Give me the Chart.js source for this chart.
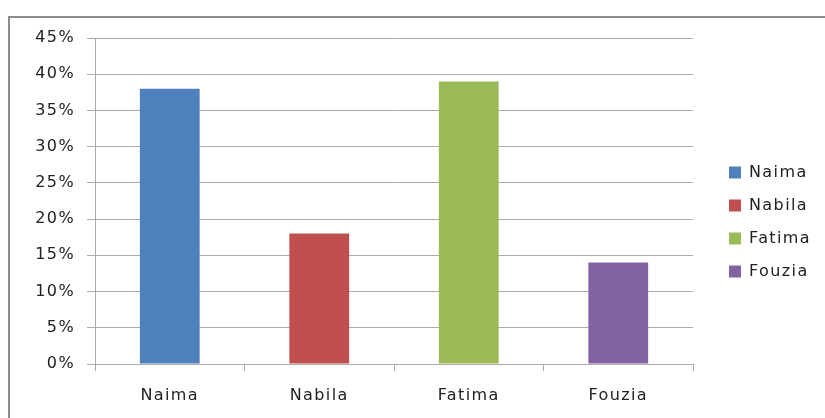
<!DOCTYPE html>
<html>
<head>
<meta charset="utf-8">
<script src="https://cdn.jsdelivr.net/npm/chart.js@4/dist/chart.umd.min.js"></script>
<style>
  html, body { margin: 0; padding: 0; background: #fff; }
  #wrap { position: absolute; left: 0; top: 0; width: 825px; height: 418px; }
</style>
</head>
<body>
<div id="wrap"><canvas id="c" width="825" height="418"></canvas></div>
<script>
const categories = ['Naima', 'Nabila', 'Fatima', 'Fouzia'];
const values = [38, 18, 39, 14];
const barColors = ['#4F81BD', '#C0504D', '#9BBB59', '#8064A2'];
const yMax = 45;
const yStep = 5;

const FONT = { family: "'DejaVu Sans', Verdana, sans-serif", size: 16 };
const TEXT = '#222222';
const GRID = '#ababab';
const SPACING = '1.4px';

const framePlugin = {
  id: 'frame',
  beforeLayout(chart) {
    chart.ctx.letterSpacing = SPACING;
    const lg = chart.legend;
    if (lg && !lg._patched) {
      const f = lg.fit;
      lg.fit = function () { f.apply(this, arguments); this.width = 113; };
      lg._patched = true;
    }
  },
  beforeDraw(chart) {
    const ctx = chart.ctx;
    ctx.letterSpacing = SPACING;
    ctx.save();
    ctx.strokeStyle = '#8c8c8c';
    ctx.lineWidth = 2;
    ctx.strokeRect(9, 17, 840, 420);
    ctx.restore();
  }
};

new Chart(document.getElementById('c'), {
  type: 'bar',
  data: {
    labels: categories,
    datasets: [{
      data: values,
      backgroundColor: barColors,
      borderWidth: 0,
      barPercentage: 0.4,
      categoryPercentage: 1.0
    }]
  },
  options: {
    responsive: false,
    animation: false,
    devicePixelRatio: 1,
    layout: { padding: { left: 10, top: 38, right: 0, bottom: 12 } },
    plugins: {
      tooltip: { enabled: false },
      legend: {
        position: 'right',
        align: 'center',
        labels: {
          boxWidth: 12,
          boxHeight: 12,
          padding: 17,
          color: TEXT,
          font: FONT,
          generateLabels(chart) {
            const ds = chart.data.datasets[0];
            return chart.data.labels.map((l, i) => ({
              text: l,
              fillStyle: ds.backgroundColor[i],
              strokeStyle: ds.backgroundColor[i],
              lineWidth: 0,
              fontColor: TEXT,
              hidden: false,
              index: i
            }));
          }
        }
      }
    },
    scales: {
      x: {
        grid: { drawOnChartArea: false, drawTicks: true, tickLength: 7, color: GRID },
        border: { color: GRID },
        ticks: { padding: 15, color: TEXT, font: FONT },
        afterFit(s) { s.height = 42; }
      },
      y: {
        min: 0,
        max: yMax,
        ticks: { stepSize: yStep, padding: 12, color: TEXT, font: FONT, callback: v => v + '%' },
        grid: { color: GRID, tickLength: 8 },
        border: { color: GRID },
        afterFit(s) { s.width = 85; }
      },
      yR: {
        position: 'right',
        display: true,
        grid: { display: false, drawTicks: false },
        border: { display: false },
        ticks: { display: false },
        afterFit(s) { s.width = 19; }
      }
    }
  },
  plugins: [framePlugin]
});
</script>
</body>
</html>
